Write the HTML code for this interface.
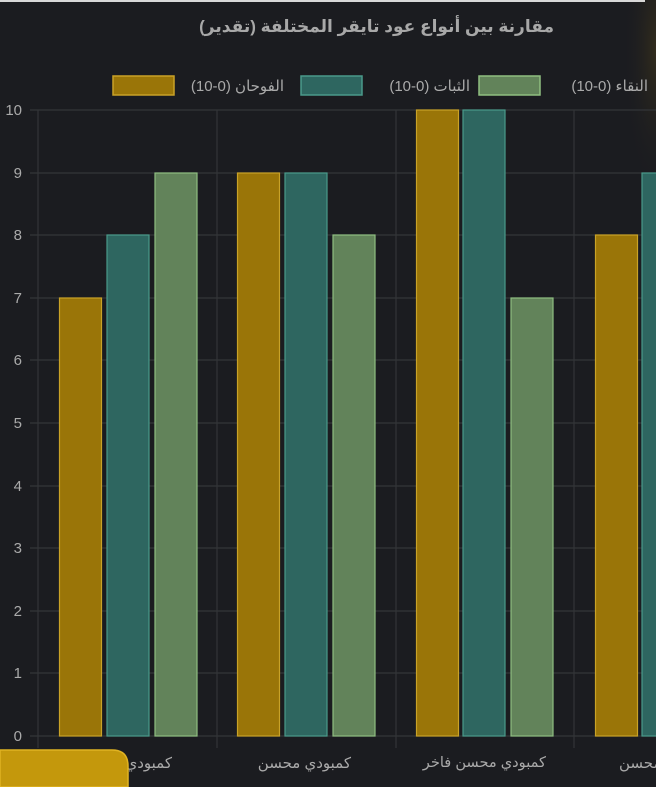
<!DOCTYPE html>
<html><head><meta charset="utf-8"><style>
html,body{margin:0;padding:0;background:#1b1c20;width:656px;height:787px;overflow:hidden;position:relative}
svg{display:block;position:absolute;left:0;top:0}
.t{position:absolute;font-family:"Liberation Sans","DejaVu Sans",sans-serif;color:#aaa;white-space:nowrap;direction:rtl}
text{font-family:"Liberation Sans","DejaVu Sans",sans-serif}
</style></head><body>
<svg width="656" height="787" xmlns="http://www.w3.org/2000/svg">
<defs>
<radialGradient id="g" cx="1" cy="0.2" r="0.6"><stop offset="0" stop-color="#4a3d1a" stop-opacity="0.5"/><stop offset="1" stop-color="#1b1c20" stop-opacity="0"/></radialGradient>
</defs>
<rect width="656" height="787" fill="#1b1c20"/>
<rect x="600" y="0" width="56" height="250" fill="url(#g)"/>
<rect x="0" y="0" width="645" height="2" fill="#d8d8d8"/>
<rect x="113" y="76" width="61" height="19" fill="#9a7508" stroke="#c9a227" stroke-width="1.5"/>
<rect x="301" y="76" width="61" height="19" fill="#2e6660" stroke="#4a9a8a" stroke-width="1.5"/>
<rect x="479" y="76" width="61" height="19" fill="#62835a" stroke="#8fbf80" stroke-width="1.5"/>
<g stroke="#333538" stroke-width="1.2">
<line x1="30" y1="110" x2="656" y2="110"/><line x1="30" y1="173" x2="656" y2="173"/>
<line x1="30" y1="235" x2="656" y2="235"/><line x1="30" y1="298" x2="656" y2="298"/>
<line x1="30" y1="360" x2="656" y2="360"/><line x1="30" y1="423" x2="656" y2="423"/>
<line x1="30" y1="486" x2="656" y2="486"/><line x1="30" y1="548" x2="656" y2="548"/>
<line x1="30" y1="611" x2="656" y2="611"/><line x1="30" y1="673" x2="656" y2="673"/>
<line x1="30" y1="736" x2="656" y2="736"/>
<line x1="38" y1="110" x2="38" y2="748"/><line x1="217" y1="110" x2="217" y2="748"/>
<line x1="396" y1="110" x2="396" y2="748"/><line x1="574" y1="110" x2="574" y2="748"/>
</g>
<g font-size="15" fill="#aaa" text-anchor="end">
<text x="22" y="115">10</text><text x="22" y="178">9</text><text x="22" y="240">8</text>
<text x="22" y="303">7</text><text x="22" y="365">6</text><text x="22" y="428">5</text>
<text x="22" y="491">4</text><text x="22" y="553">3</text><text x="22" y="616">2</text>
<text x="22" y="678">1</text><text x="22" y="741">0</text>
</g>
<g stroke-width="1.2">
<g fill="#9a7508" stroke="#c9a227">
<rect x="59.5" y="298" width="42" height="438"/>
<rect x="237.5" y="173" width="42" height="563"/>
<rect x="416.5" y="110" width="42" height="626"/>
<rect x="595.5" y="235" width="42" height="501"/>
</g>
<g fill="#2e6660" stroke="#4a9a8a">
<rect x="107" y="235" width="42" height="501"/>
<rect x="285" y="173" width="42" height="563"/>
<rect x="463" y="110" width="42" height="626"/>
<rect x="642" y="173" width="42" height="563"/>
</g>
<g fill="#62835a" stroke="#8fbf80">
<rect x="155" y="173" width="42" height="563"/>
<rect x="333" y="235" width="42" height="501"/>
<rect x="511" y="298" width="42" height="438"/>
</g>
</g>
</svg>
<div class="t" style="right:102px;top:17px;font-size:17px;font-weight:bold;color:#a8a8a8">مقارنة بين أنواع عود تايقر المختلفة (تقدير)</div>
<div class="t" style="right:372px;top:77px;font-size:15px">الفوحان (0-10)</div>
<div class="t" style="right:186px;top:77px;font-size:15px">الثبات (0-10)</div>
<div class="t" style="right:8px;top:77px;font-size:15px">النقاء (0-10)</div>
<div class="t" style="right:484px;top:754px;font-size:15px">كمبودي</div>
<div class="t" style="right:305px;top:754px;font-size:15px">كمبودي محسن</div>
<div class="t" style="right:110px;top:754px;font-size:14.6px">كمبودي محسن فاخر</div>
<div class="t" style="left:619px;top:754px;font-size:15px;direction:ltr">محسن</div>
<svg width="656" height="787" style="pointer-events:none"><path d="M0 750 H112 Q128 750 128 766 V787 H0 Z" fill="#c4980c" stroke="#e0b322" stroke-width="1.5"/></svg>
</body></html>
